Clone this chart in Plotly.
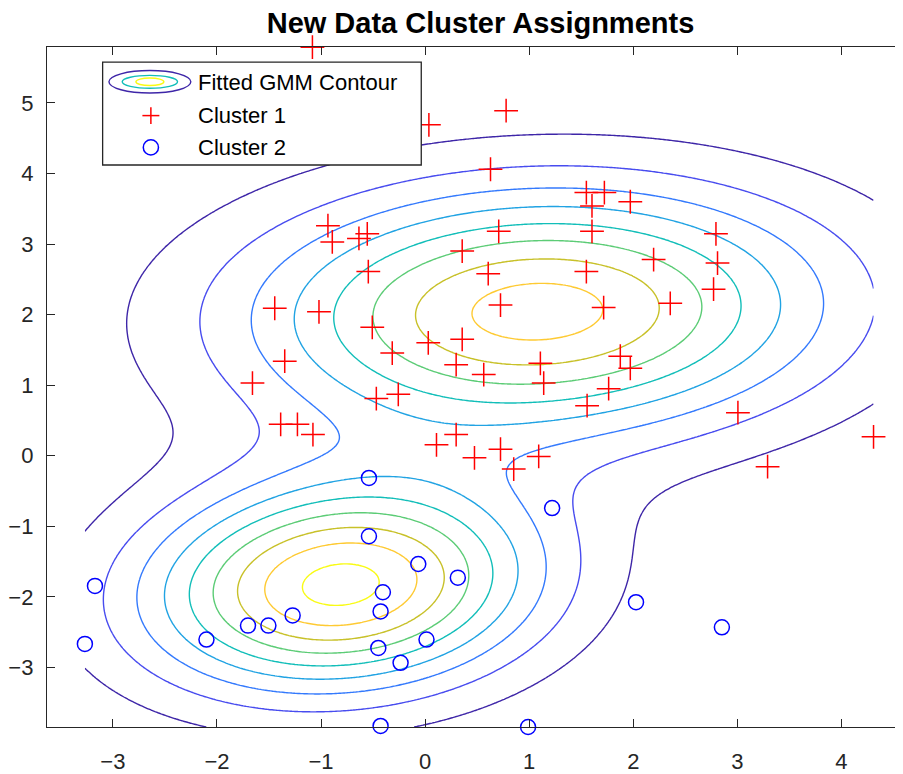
import numpy as np
import plotly.graph_objects as go

# ---------------- data ----------------
cluster1_x = [-1.083, 0.036, 0.778, 0.628, 1.549, 1.722, 1.603, 1.971, 0.707, 1.603,
              2.794, 2.195, 2.809, 0.606, 1.549, -0.934, -0.892, -0.636, -0.556, 0.356,
              -0.546, -1.445, -1.020, 0.724, 1.715, 2.355, -0.508, 0.030, 0.356, -0.316,
              -1.349, 0.298, 0.563, 1.107, 1.875, 1.971, 1.139, 1.763, 1.556, -1.659,
              -0.469, -0.258, -1.388, -1.227, -1.078, 0.298, 0.109, 0.474, 2.771, 3.005,
              0.724, 0.851, 1.091, 3.290, 4.308]
cluster1_y = [5.790, 4.690, 4.890, 4.060, 3.730, 3.730, 3.540, 3.600, 3.180, 3.180,
              3.145, 2.780, 2.730, 2.580, 2.610, 3.260, 3.030, 3.080, 3.145, 2.900,
              2.610, 2.090, 2.040, 2.135, 2.100, 2.160, 1.820, 1.600, 1.650, 1.455,
              1.340, 1.290, 1.150, 1.310, 1.410, 1.240, 1.030, 0.950, 0.710, 1.030,
              0.810, 0.870, 0.445, 0.445, 0.300, 0.300, 0.155, -0.030, 2.360, 0.610,
              0.093, -0.190, -0.010, -0.155, 0.268]

cluster2_x = [-3.172, -3.269, -2.101, -1.702, -1.506, -1.273, -0.540, -0.540, -0.066, -0.406,
              -0.428, -0.450, -0.236, 0.013, -0.428, 0.314, 1.220, 2.026, 2.851, 0.989]
cluster2_y = [-1.845, -2.667, -2.606, -2.408, -2.408, -2.263, -0.315, -1.141, -1.535, -1.935,
              -2.207, -2.724, -2.935, -2.606, -3.830, -1.728, -0.742, -2.076, -2.432, -3.845]

# fitted Gaussian mixture (2 components)
gmm_weights = [0.615, 0.385]
gmm_means = [[1.08, 2.045], [-0.815, -1.84]]
gmm_covs = [[[3.65, 0.15], [0.15, 1.48]],
            [[1.68, 0.15], [0.15, 1.04]]]
contour_levels = [0.005, 0.010, 0.015, 0.020, 0.025, 0.030, 0.035, 0.040, 0.045]

x_ticks = [-3, -2, -1, 0, 1, 2, 3, 4]
y_ticks = [-3, -2, -1, 0, 1, 2, 3, 4, 5]

# ---------------- styling ----------------
parula9 = ['#3e26a8', '#484cef', '#347afd', '#21a3e3', '#12beb9',
           '#5ccc76', '#c8c129', '#feca33', '#f9fb15']
AX = '#262626'
FONT = 'Liberation Sans, Arial, sans-serif'
# the page body has an 8px default margin: the figure is placed at (8, 8)
OFF = 8
W, H = 903 - OFF, 774 - OFF
# plot box in page pixels
PL, PR, PT, PB = 46, 903, 47, 731
L, R, T, B = PL - OFF, PR - OFF, PT - OFF, PB - OFF

# ---------------- GMM density on the data bounding box ----------------
all_x = np.array(cluster1_x + cluster2_x)
all_y = np.array(cluster1_y + cluster2_y)
gx = np.linspace(all_x.min(), all_x.max(), 260)
gy = np.linspace(all_y.min(), all_y.max(), 320)
XX, YY = np.meshgrid(gx, gy)
Z = np.zeros_like(XX)
for w, m, c in zip(gmm_weights, gmm_means, gmm_covs):
    c = np.array(c)
    inv = np.linalg.inv(c)
    det = np.linalg.det(c)
    dx = XX - m[0]
    dy = YY - m[1]
    q = inv[0, 0] * dx * dx + 2 * inv[0, 1] * dx * dy + inv[1, 1] * dy * dy
    Z += w * np.exp(-0.5 * q) / (2 * np.pi * np.sqrt(det))

fig = go.Figure()
fig.add_trace(go.Contour(
    x=gx, y=gy, z=Z,
    contours=dict(start=contour_levels[0], end=contour_levels[-1],
                  size=contour_levels[1] - contour_levels[0],
                  coloring='lines', showlabels=False),
    colorscale=[[i / (len(parula9) - 1), c] for i, c in enumerate(parula9)],
    zmin=contour_levels[0], zmax=contour_levels[-1], zauto=False,
    line=dict(width=1.4, smoothing=1),
    showscale=False, hoverinfo='skip', name='Fitted GMM Contour', showlegend=False))

fig.add_trace(go.Scatter(
    x=cluster1_x, y=cluster1_y, mode='markers', name='Cluster 1', showlegend=False,
    marker=dict(symbol='cross-thin', size=17, color='#ff0000',
                line=dict(color='#ff0000', width=1.5)), cliponaxis=False))
fig.add_trace(go.Scatter(
    x=cluster2_x, y=cluster2_y, mode='markers', name='Cluster 2', showlegend=False,
    marker=dict(symbol='circle-open', size=15, color='#0000ff',
                line=dict(color='#0000ff', width=1.5)), cliponaxis=False))

# ---------------- custom MATLAB-style legend (page pixel -> paper) ----------------
def px(x):
    return (x - PL) / (PR - PL)


def py(y):
    return (PB - y) / (PB - PT)


shapes = [dict(type='rect', xref='paper', yref='paper', layer='above',
               x0=px(101.7), x1=px(420.7), y0=py(165.7), y1=py(62.3),
               line=dict(color=AX, width=1.3), fillcolor='white')]
for (rx, ry, col) in [(41, 11.3, parula9[0]), (27.7, 6.5, parula9[4]), (14, 3.8, parula9[8])]:
    shapes.append(dict(type='circle', xref='paper', yref='paper', layer='above',
                       x0=px(149 - rx), x1=px(149 + rx), y0=py(82 + ry), y1=py(82 - ry),
                       line=dict(color=col, width=1.4)))
shapes.append(dict(type='line', xref='paper', yref='paper', layer='above',
                   x0=px(150 - 8.5), x1=px(150 + 8.5), y0=py(116), y1=py(116),
                   line=dict(color='#ff0000', width=1.5)))
shapes.append(dict(type='line', xref='paper', yref='paper', layer='above',
                   x0=px(150), x1=px(150), y0=py(116 - 8.5), y1=py(116 + 8.5),
                   line=dict(color='#ff0000', width=1.5)))
shapes.append(dict(type='circle', xref='paper', yref='paper', layer='above',
                   x0=px(150 - 7.6), x1=px(150 + 7.6), y0=py(148 + 7.6), y1=py(148 - 7.6),
                   line=dict(color='#0000ff', width=1.5)))

annotations = []
for txt, yy in [('Fitted GMM Contour', 83), ('Cluster 1', 116), ('Cluster 2', 148)]:
    annotations.append(dict(text=txt, xref='paper', yref='paper', x=px(195), y=py(yy),
                            xanchor='left', yanchor='middle', showarrow=False,
                            font=dict(family=FONT, size=22, color='#000000')))

fig.update_layout(
    width=W, height=H,
    margin=dict(l=L, r=W - R, t=T, b=H - B, pad=0),
    paper_bgcolor='white', plot_bgcolor='white',
    title=dict(text='<b>New Data Cluster Assignments</b>', xref='paper', x=px(480),
               xanchor='center', yref='container', y=1 - (22.5 - OFF) / H, yanchor='middle',
               font=dict(family=FONT, size=29, color='#000000')),
    shapes=shapes, annotations=annotations,
    showlegend=False,
)
fig.update_xaxes(range=[-3.633, 4.591], tickvals=x_ticks, ticks='inside', ticklen=8,
                 tickwidth=1.3, tickcolor=AX, showline=True, linecolor=AX, linewidth=1.3,
                 mirror='ticks', showgrid=False, zeroline=False,
                 tickfont=dict(family=FONT, size=22, color=AX), ticklabelstandoff=14)
fig.update_yaxes(range=[-3.845, 5.793], tickvals=y_ticks, ticks='inside', ticklen=8,
                 tickwidth=1.3, tickcolor=AX, showline=True, linecolor=AX, linewidth=1.3,
                 mirror=False, showgrid=False, zeroline=False,
                 tickfont=dict(family=FONT, size=22, color=AX), ticklabelstandoff=8)

fig.write_html("out.html")
